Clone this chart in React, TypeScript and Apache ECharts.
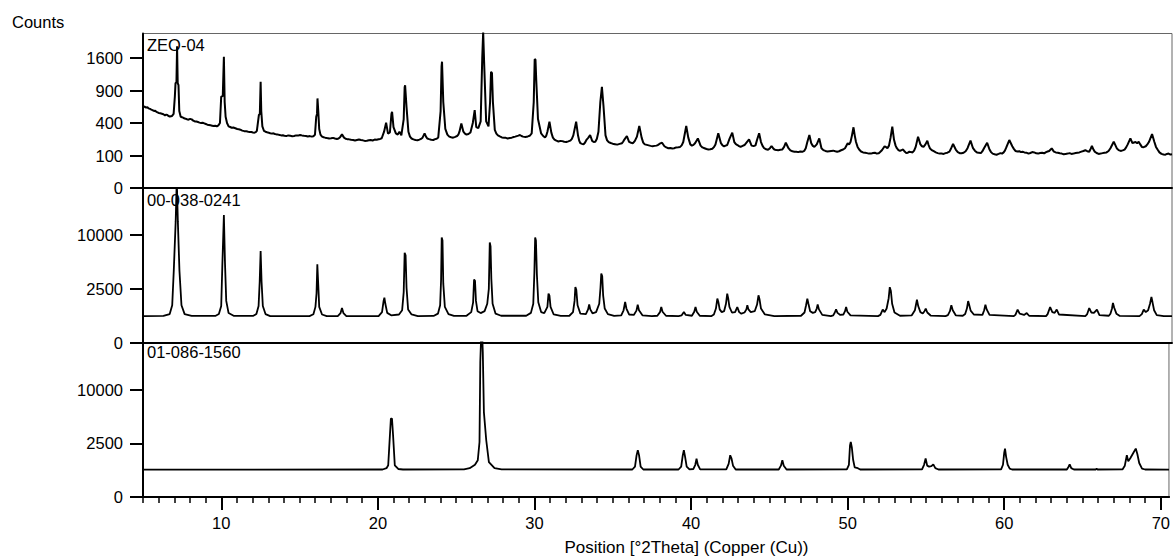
import { useEffect, useRef } from "react";
import * as echarts from "echarts";

// ---------- axis ranges & ticks ----------
const X_MIN = 5;
const X_MAX = 70.52;
const xMajorTicks = [10, 20, 30, 40, 50, 60, 70];
const xMinorTicks = [5, 6, 7, 8, 9, 10, 11, 12, 13, 14, 15, 16, 17, 18, 19, 20, 21, 22, 23, 24, 25, 26, 27, 28, 29, 30, 31, 32, 33, 34, 35, 36, 37, 38, 39, 40, 41, 42, 43, 44, 45, 46, 47, 48, 49, 50, 51, 52, 53, 54, 55, 56, 57, 58, 59, 60, 61, 62, 63, 64, 65, 66, 67, 68, 69, 70];
const yTicksSample = [0, 100, 400, 900, 1600];
const yTicksRef = [0, 2500, 10000];
const yMaxSample = 2260;
const yMaxRef = 20680;
const panelLabels = ["ZEO-04", "00-038-0241", "01-086-1560"];
const yAxisTitle = "Counts";
const xAxisTitle = "Position [°2Theta] (Copper (Cu))";

// ---------- measured pattern: ZEO-04 [2theta, counts] ----------
const sampleZEO04 = [
  [5.0, 640], [5.1, 625], [5.2, 612], [5.28, 618], [5.35, 600], [5.45, 592], [5.5, 585], [5.6, 575], [5.7, 562], [5.78, 566], [5.85, 548], [5.95, 540], [6.0, 532], [6.1, 528], [6.2, 522], [6.3, 515], [6.4, 500], [6.48, 510], [6.55, 506], [6.62, 492], [6.7, 482], [6.78, 488], [6.85, 492],
  [6.95, 520], [7.03, 800], [7.07, 1040], [7.13, 1060], [7.17, 1900], [7.21, 1040], [7.26, 1000], [7.31, 560], [7.4, 480],
  [7.48, 475], [7.55, 468], [7.62, 460], [7.7, 455], [7.8, 448], [7.9, 442], [8.0, 452], [8.1, 446], [8.2, 430], [8.3, 420], [8.4, 418], [8.5, 412], [8.6, 405], [8.7, 400], [8.8, 403], [8.9, 396], [9.0, 388], [9.1, 380], [9.2, 376], [9.3, 372], [9.4, 368], [9.5, 364], [9.6, 366], [9.7, 360], [9.8, 372],
  [9.9, 400], [9.98, 790], [10.08, 800], [10.15, 1630], [10.2, 700], [10.26, 480], [10.35, 400],
  [10.45, 360], [10.55, 352], [10.65, 344], [10.75, 346], [10.88, 338], [11.0, 330], [11.1, 326], [11.2, 322], [11.32, 312], [11.45, 306], [11.58, 304], [11.7, 300], [11.8, 298], [11.9, 296], [12.0, 292], [12.1, 290], [12.18, 296], [12.25, 310],
  [12.38, 505], [12.44, 520], [12.49, 1070], [12.53, 560], [12.6, 360],
  [12.7, 310], [12.8, 300], [12.9, 294], [13.0, 290], [13.1, 284], [13.2, 280], [13.3, 283], [13.4, 276], [13.5, 272], [13.6, 270], [13.7, 266], [13.8, 262], [13.9, 264], [14.0, 258], [14.12, 255], [14.25, 262], [14.38, 258], [14.5, 254], [14.62, 256], [14.75, 262], [14.88, 260],
  [15.0, 266], [15.12, 262], [15.25, 258], [15.38, 256], [15.5, 252], [15.62, 255], [15.75, 250], [15.85, 254], [15.95, 268],
  [16.03, 480], [16.08, 520], [16.11, 760], [16.16, 560], [16.22, 330],
  [16.3, 270], [16.4, 250], [16.5, 244], [16.6, 240], [16.72, 236], [16.85, 232], [16.98, 234], [17.1, 238], [17.22, 232], [17.35, 228], [17.45, 232], [17.55, 245], [17.67, 272], [17.8, 240], [17.9, 230], [18.0, 226], [18.12, 224], [18.25, 220], [18.38, 218], [18.5, 214],
  [18.62, 218], [18.75, 222], [18.88, 218], [19.0, 215], [19.12, 210], [19.25, 212], [19.38, 216], [19.5, 218], [19.62, 214], [19.75, 222], [19.88, 220], [20.0, 225], [20.1, 228], [20.2, 234],
  [20.35, 300], [20.48, 404], [20.6, 280], [20.72, 292], [20.82, 520], [20.86, 550], [20.95, 350], [21.1, 282], [21.22, 270], [21.33, 300], [21.45, 262],
  [21.6, 450], [21.66, 960], [21.69, 1000], [21.78, 620], [21.9, 300],
  [22.0, 250], [22.1, 232], [22.22, 224], [22.35, 218], [22.48, 216], [22.6, 222], [22.7, 228], [22.8, 240], [22.93, 282], [23.02, 250], [23.1, 232], [23.22, 226], [23.35, 220], [23.48, 218], [23.6, 226], [23.7, 230], [23.8, 242],
  [23.95, 560], [24.01, 1400], [24.04, 1510], [24.12, 700], [24.25, 330],
  [24.38, 270], [24.5, 250], [24.62, 244], [24.75, 240], [24.88, 248], [25.0, 256], [25.08, 270], [25.15, 300], [25.27, 395], [25.4, 300], [25.5, 280], [25.6, 270], [25.72, 276], [25.85, 292],
  [26.0, 400], [26.12, 575], [26.22, 350], [26.35, 340], [26.5, 420], [26.6, 1590], [26.66, 2300], [26.72, 1500], [26.85, 420],
  [27.0, 360], [27.1, 700], [27.16, 1280], [27.22, 1250], [27.28, 700], [27.4, 320],
  [27.5, 280], [27.6, 262], [27.72, 252], [27.85, 242], [27.98, 240], [28.1, 238], [28.22, 232], [28.35, 236], [28.48, 240], [28.6, 246], [28.7, 250], [28.8, 255], [28.9, 260], [29.0, 266], [29.1, 256], [29.2, 250], [29.35, 246], [29.5, 252], [29.62, 258], [29.75, 282],
  [29.88, 700], [29.94, 1570], [29.99, 1560], [30.04, 1100], [30.15, 450], [30.35, 282],
  [30.48, 256], [30.6, 242], [30.68, 260], [30.75, 300], [30.88, 416], [31.0, 290], [31.1, 240], [31.2, 222], [31.32, 212], [31.45, 205], [31.58, 210], [31.7, 208], [31.82, 202], [31.95, 200], [32.08, 206], [32.2, 212], [32.3, 226],
  [32.4, 262], [32.58, 416], [32.7, 260], [32.78, 210], [32.85, 190], [32.95, 184], [33.05, 180], [33.15, 196], [33.25, 222], [33.36, 240], [33.47, 266], [33.6, 210], [33.7, 200], [33.8, 202], [33.9, 230],
  [34.0, 300], [34.12, 700], [34.22, 971], [34.32, 640], [34.45, 262],
  [34.55, 215], [34.65, 200], [34.78, 192], [34.9, 186], [35.05, 182], [35.2, 178], [35.35, 184], [35.5, 190], [35.58, 205], [35.65, 222], [35.81, 256], [35.95, 202], [36.08, 194], [36.2, 190], [36.32, 210], [36.45, 250], [36.6, 364],
  [36.75, 240], [36.85, 195], [36.95, 180], [37.08, 176], [37.2, 172], [37.32, 168], [37.45, 165], [37.58, 168], [37.7, 170], [37.8, 176], [37.9, 186], [38.05, 194], [38.2, 165], [38.32, 156], [38.45, 150], [38.58, 152], [38.7, 148], [38.82, 150],
  [38.95, 156], [39.08, 158], [39.2, 160], [39.3, 172], [39.4, 200], [39.59, 364], [39.72, 240], [39.85, 180], [39.95, 170], [40.05, 176], [40.15, 190], [40.33, 233], [40.5, 170], [40.62, 156], [40.75, 150], [40.88, 144],
  [41.0, 140], [41.12, 142], [41.25, 146], [41.35, 158], [41.45, 180], [41.63, 283], [41.8, 190], [41.9, 172], [42.0, 165], [42.1, 170], [42.2, 175], [42.35, 230], [42.52, 290], [42.65, 200], [42.75, 182],
  [42.85, 175], [42.95, 166], [43.05, 160], [43.18, 168], [43.3, 175], [43.45, 200], [43.59, 224], [43.75, 170], [43.88, 166], [44.0, 172], [44.1, 220], [44.23, 283], [44.35, 200], [44.45, 168],
  [44.55, 150], [44.68, 142], [44.8, 138], [44.92, 150], [45.02, 167], [45.12, 150], [45.2, 140], [45.32, 136], [45.45, 135], [45.58, 138], [45.7, 140], [45.82, 160], [45.93, 194], [46.1, 150], [46.22, 134], [46.35, 128], [46.48, 124], [46.6, 125],
  [46.72, 122], [46.85, 126], [46.98, 124], [47.1, 130], [47.2, 150], [47.3, 200], [47.43, 266], [47.55, 190], [47.65, 168], [47.75, 160], [47.9, 180], [48.06, 233], [48.2, 150], [48.32, 136], [48.45, 130], [48.58, 126], [48.7, 128],
  [48.82, 130], [48.95, 132], [49.08, 128], [49.2, 125], [49.32, 128], [49.45, 135], [49.58, 140], [49.7, 150], [49.87, 189], [49.96, 180], [50.05, 200], [50.14, 260], [50.24, 349], [50.32, 260], [50.4, 200], [50.5, 160], [50.6, 140], [50.72, 126], [50.85, 120],
  [50.98, 118], [51.1, 115], [51.22, 112], [51.35, 112], [51.48, 116], [51.6, 118], [51.72, 112], [51.85, 114], [51.95, 124], [52.05, 135], [52.22, 165], [52.32, 158], [52.4, 150], [52.5, 170], [52.6, 240], [52.71, 356], [52.82, 220],
  [52.92, 170], [53.0, 150], [53.1, 136], [53.2, 130], [53.3, 136], [53.4, 140], [53.5, 126], [53.6, 115], [53.7, 118], [53.8, 125], [53.9, 122], [54.0, 120], [54.1, 132], [54.2, 160], [54.35, 249], [54.5, 180], [54.6, 165], [54.7, 160],
  [54.82, 180], [54.94, 212], [55.02, 175], [55.1, 150], [55.22, 136], [55.35, 128], [55.48, 120], [55.6, 115], [55.72, 112], [55.85, 112], [55.98, 110], [56.1, 115], [56.22, 118], [56.35, 125], [56.46, 150], [56.58, 183], [56.75, 140], [56.88, 122], [57.0, 115],
  [57.12, 114], [57.25, 118], [57.38, 128], [57.5, 150], [57.69, 212], [57.85, 150], [57.98, 130], [58.1, 120], [58.22, 118], [58.35, 115], [58.45, 128], [58.55, 150], [58.75, 194], [58.9, 140], [59.0, 122], [59.1, 112],
  [59.22, 108], [59.35, 105], [59.48, 110], [59.6, 115], [59.7, 112], [59.8, 120], [59.88, 132], [59.95, 150], [60.16, 218], [60.35, 165], [60.45, 145], [60.55, 130], [60.68, 126], [60.8, 128], [60.9, 122], [61.0, 125], [61.12, 120], [61.25, 118],
  [61.38, 112], [61.5, 116], [61.62, 122], [61.75, 120], [61.88, 114], [62.0, 112], [62.12, 116], [62.25, 118], [62.38, 114], [62.5, 122], [62.6, 126], [62.7, 130], [62.86, 149], [63.0, 125], [63.12, 120], [63.25, 118], [63.38, 114], [63.5, 112],
  [63.62, 108], [63.75, 110], [63.88, 112], [64.0, 115], [64.12, 110], [64.25, 112], [64.38, 116], [64.5, 118], [64.62, 120], [64.75, 125], [64.88, 130], [65.0, 135], [65.12, 128], [65.25, 125], [65.32, 140], [65.42, 167], [65.52, 140], [65.6, 125], [65.72, 116], [65.85, 110],
  [65.98, 112], [66.1, 115], [66.22, 118], [66.35, 120], [66.48, 130], [66.6, 150], [66.81, 203], [67.0, 150], [67.12, 136], [67.25, 130], [67.38, 134], [67.5, 140], [67.6, 156], [67.7, 180], [67.87, 233], [68.0, 190], [68.1, 196],
  [68.2, 200], [68.3, 190], [68.4, 203], [68.5, 180], [68.6, 160], [68.72, 158], [68.85, 165], [68.95, 180], [69.05, 200], [69.25, 276], [69.4, 200], [69.5, 160], [69.6, 140], [69.72, 120], [69.85, 110], [69.98, 106], [70.1, 105],
  [70.2, 110], [70.3, 112], [70.42, 106], [70.52, 108],
];

// ---------- reference pattern 00-038-0241 [2theta, counts] ----------
const ref00_038_0241 = [
  [5.0, 600], [6.3, 610], [6.7, 700], [6.86, 1200], [6.96, 4500], [7.08, 12600], [7.15, 23000], [7.22, 12600], [7.32, 4500], [7.45, 1200], [7.65, 700], [8.1, 610],
  [9.6, 610], [9.83, 700], [9.98, 1150], [10.05, 5000], [10.15, 14100], [10.22, 5500], [10.3, 1500], [10.45, 750], [10.8, 610],
  [12.0, 610], [12.22, 700], [12.36, 1150], [12.43, 3200], [12.49, 7230], [12.55, 3200], [12.63, 1150], [12.8, 700], [13.1, 605],
  [15.6, 605], [15.85, 690], [15.98, 1100], [16.05, 2100], [16.1, 5310], [16.16, 2850], [16.22, 1100], [16.4, 680], [16.7, 605],
  [17.4, 605], [17.58, 750], [17.67, 1030], [17.76, 750], [17.95, 605],
  [20.0, 605], [20.22, 800], [20.32, 1500], [20.37, 1745], [20.43, 1300], [20.55, 760], [20.8, 640],
  [21.3, 680], [21.5, 900], [21.6, 2200], [21.66, 6970], [21.72, 6600], [21.78, 2600], [21.88, 950], [22.1, 680], [22.5, 605],
  [23.5, 610], [23.78, 720], [23.92, 1200], [23.98, 3400], [24.02, 9570], [24.07, 9000], [24.12, 3000], [24.22, 1100], [24.45, 700], [24.8, 610],
  [25.6, 620], [25.9, 800], [26.02, 1400], [26.08, 3430], [26.14, 3300], [26.2, 1500], [26.3, 850], [26.5, 750],
  [26.75, 850], [26.92, 1300], [27.02, 2500], [27.08, 8680], [27.13, 8000], [27.18, 3500], [27.26, 1300], [27.45, 720], [27.8, 620],
  [29.4, 620], [29.7, 760], [29.85, 1300], [29.92, 4200], [29.97, 9570], [30.02, 9000], [30.08, 4000], [30.17, 1400], [30.35, 800],
  [30.55, 750], [30.75, 1100], [30.82, 2070], [30.88, 1900], [30.95, 1100], [31.15, 680], [31.6, 610],
  [32.15, 620], [32.38, 800], [32.48, 1500], [32.53, 2670], [32.59, 2400], [32.67, 1200], [32.85, 720],
  [33.2, 700], [33.34, 950], [33.41, 1250], [33.48, 950], [33.62, 740],
  [33.85, 800], [34.05, 1300], [34.13, 2600], [34.18, 4120], [34.24, 3800], [34.3, 1900], [34.4, 1000], [34.6, 700], [35.0, 610],
  [35.45, 640], [35.6, 900], [35.7, 1420], [35.78, 1000], [35.95, 680],
  [36.25, 660], [36.42, 880], [36.5, 1240], [36.58, 900], [36.8, 640], [37.4, 605],
  [37.75, 620], [37.92, 800], [38.0, 1090], [38.08, 820], [38.3, 620], [39.1, 605],
  [39.3, 640], [39.44, 800], [39.56, 660],
  [39.95, 620], [40.1, 820], [40.18, 1090], [40.26, 820], [40.45, 620], [41.2, 605],
  [41.35, 680], [41.48, 1000], [41.57, 1670], [41.64, 1400], [41.72, 950], [41.85, 800],
  [42.0, 850], [42.12, 1300], [42.2, 2070], [42.26, 1700], [42.34, 1100], [42.5, 780],
  [42.7, 800], [42.84, 1090], [42.96, 800], [43.1, 720],
  [43.3, 780], [43.42, 950], [43.48, 1200], [43.55, 950], [43.7, 800],
  [43.95, 850], [44.1, 1250], [44.19, 1930], [44.26, 1600], [44.35, 1000], [44.6, 680], [45.2, 605],
  [46.9, 620], [47.12, 780], [47.22, 1200], [47.3, 1670], [47.37, 1300], [47.48, 850], [47.65, 760],
  [47.8, 800], [47.9, 1000], [47.96, 1260], [48.04, 950], [48.25, 660], [48.8, 605],
  [48.95, 640], [49.05, 780], [49.13, 950], [49.22, 760], [49.4, 660],
  [49.6, 680], [49.7, 850], [49.77, 1090], [49.85, 820], [50.05, 640], [51.8, 605],
  [51.95, 660], [52.1, 940], [52.22, 800],
  [52.35, 1000], [52.48, 1700], [52.55, 2650], [52.62, 2300], [52.7, 1300], [52.85, 780], [53.2, 620],
  [53.95, 640], [54.15, 900], [54.28, 1590], [54.36, 1150], [54.5, 800],
  [54.65, 730], [54.76, 850], [54.84, 990], [54.94, 780], [55.15, 630], [56.1, 605],
  [56.25, 650], [56.38, 850], [56.47, 1200], [56.56, 900], [56.75, 640], [57.2, 620],
  [57.35, 700], [57.46, 1000], [57.54, 1490], [57.6, 1250], [57.7, 880], [57.9, 680],
  [58.45, 660], [58.56, 900], [58.64, 1240], [58.72, 950], [58.9, 660], [60.45, 605],
  [60.55, 660], [60.69, 940], [60.82, 720], [61.1, 660],
  [61.27, 750], [61.42, 620], [62.5, 605],
  [62.6, 700], [62.76, 1090], [62.9, 800], [63.05, 760],
  [63.18, 940], [63.32, 680], [65.0, 605],
  [65.12, 700], [65.25, 1030], [65.38, 780], [65.55, 760],
  [65.74, 940], [65.9, 650], [66.5, 620],
  [66.6, 720], [66.7, 1000], [66.76, 1350], [66.84, 1050], [66.98, 720], [67.2, 610], [68.45, 605],
  [68.6, 700], [68.72, 940], [68.85, 800], [69.0, 900],
  [69.12, 1300], [69.21, 1790], [69.28, 1400], [69.38, 900], [69.55, 650], [70.0, 605], [70.52, 600],
];

// ---------- reference pattern 01-086-1560 [2theta, counts] ----------
const ref01_086_1560 = [
  [5.0, 650], [20.3, 655], [20.55, 720], [20.66, 870], [20.72, 2030], [20.83, 5330], [20.9, 5330], [20.97, 3300], [21.08, 870], [21.3, 680], [21.6, 655],
  [25.5, 660], [25.86, 720], [26.2, 900], [26.38, 1170], [26.49, 2620], [26.54, 15800], [26.6, 23000], [26.66, 23000], [26.7, 18200], [26.77, 6250], [26.92, 2790], [27.09, 1060], [27.45, 720], [27.9, 660],
  [36.25, 655], [36.42, 800], [36.52, 1500], [36.6, 1890], [36.68, 1500], [36.78, 800], [36.95, 655],
  [39.2, 655], [39.37, 800], [39.47, 1500], [39.54, 1890], [39.62, 1400], [39.72, 800], [39.9, 660],
  [40.15, 680], [40.27, 900], [40.35, 1280], [40.43, 900], [40.58, 660],
  [42.25, 660], [42.4, 950], [42.5, 1510], [42.58, 1300], [42.68, 850], [42.85, 655],
  [45.6, 655], [45.74, 850], [45.83, 1170], [45.92, 850], [46.1, 655],
  [49.95, 660], [50.08, 900], [50.15, 2300], [50.2, 2620], [50.27, 2100], [50.35, 1200], [50.45, 760], [50.65, 720], [50.8, 655],
  [54.75, 660], [54.88, 900], [54.98, 1280], [55.08, 850], [55.2, 800], [55.35, 820], [55.47, 925], [55.6, 720], [55.8, 655],
  [59.8, 660], [59.92, 900], [60.0, 1700], [60.05, 2030], [60.12, 1400], [60.22, 900], [60.35, 700], [60.5, 655],
  [64.0, 655], [64.1, 780], [64.18, 925], [64.28, 720], [64.45, 655],
  [65.85, 655], [65.9, 700], [65.95, 655],
  [67.55, 660], [67.7, 850], [67.83, 1510], [67.92, 1100], [68.05, 1300], [68.25, 1700], [68.4, 2030], [68.5, 1600], [68.62, 1000], [68.8, 700], [69.0, 655], [70.52, 650],
];

const FONT = "'Liberation Sans', Arial, sans-serif";
const FS = 16.5;

const toSqrt = (pts: number[][]) => pts.map(([x, c]) => [x, Math.sqrt(c)]);

function yAxisFor(gridIndex: number, ticks: number[], maxCount: number) {
  const vals = ticks.map((t) => Math.sqrt(t));
  return {
    type: "value",
    gridIndex,
    min: 0,
    max: Math.sqrt(maxCount),
    axisLine: { show: true, onZero: false, lineStyle: { color: "#000", width: 2 } },
    axisTick: { show: true, customValues: vals, length: 13, lineStyle: { color: "#000", width: 2 } },
    axisLabel: {
      show: true,
      customValues: vals,
      margin: 20,
      color: "#000",
      fontFamily: FONT,
      fontSize: FS,
      formatter: (v: number) => String(Math.round(v * v)),
    },
    splitLine: { show: false },
  };
}

function hiddenX(gridIndex: number) {
  return {
    type: "value",
    gridIndex,
    min: X_MIN,
    max: X_MAX,
    position: "bottom",
    axisLine: { show: true, onZero: false, lineStyle: { color: "#000", width: 2 } },
    axisTick: { show: false },
    axisLabel: { show: false },
    splitLine: { show: false },
  };
}

export default function App() {
  const ref = useRef<HTMLDivElement>(null);

  useEffect(() => {
    if (!ref.current) return;
    const chart = echarts.init(ref.current, null, { renderer: "svg" });

    const gridBase = { left: 143, right: 1, height: 154.5, show: true, borderColor: "#666", borderWidth: 1 };
    const lineBase = { type: "line", showSymbol: false, symbol: "none", clip: true, silent: true };
    const option = {
      animation: false,
      backgroundColor: "#fff",
      grid: [
        { ...gridBase, top: 33.5 },
        { ...gridBase, top: 188 },
        { ...gridBase, top: 342.5 },
      ],
      xAxis: [
        hiddenX(0),
        hiddenX(1),
        {
          type: "value",
          gridIndex: 2,
          min: X_MIN,
          max: X_MAX,
          position: "bottom",
          axisLine: { show: true, onZero: false, lineStyle: { color: "#000", width: 2 } },
          axisTick: { show: true, customValues: xMinorTicks, length: 6, lineStyle: { color: "#000", width: 1.5 } },
          axisLabel: { show: false },
          splitLine: { show: false },
        },
        {
          type: "value",
          gridIndex: 2,
          min: X_MIN,
          max: X_MAX,
          position: "bottom",
          offset: 0,
          axisLine: { show: true, onZero: false, lineStyle: { color: "#000", width: 2 } },
          axisTick: { show: true, customValues: xMajorTicks, length: 13, lineStyle: { color: "#000", width: 2 } },
          axisLabel: {
            show: true,
            customValues: xMajorTicks,
            margin: 17,
            color: "#000",
            fontFamily: FONT,
            fontSize: FS,
          },
          splitLine: { show: false },
        },
      ],
      yAxis: [
        yAxisFor(0, yTicksSample, yMaxSample),
        yAxisFor(1, yTicksRef, yMaxRef),
        yAxisFor(2, yTicksRef, yMaxRef),
      ],
      series: [
        { ...lineBase, name: panelLabels[0], xAxisIndex: 0, yAxisIndex: 0, data: toSqrt(sampleZEO04), lineStyle: { color: "#000", width: 2 } },
        { ...lineBase, name: panelLabels[1], xAxisIndex: 1, yAxisIndex: 1, data: toSqrt(ref00_038_0241), lineStyle: { color: "#000", width: 1.8 } },
        { ...lineBase, name: panelLabels[2], xAxisIndex: 2, yAxisIndex: 2, data: toSqrt(ref01_086_1560), lineStyle: { color: "#000", width: 1.8 } },
      ],
      graphic: [
        { type: "text", x: 12, y: 22, style: { text: yAxisTitle, fill: "#000", font: `${FS}px ${FONT}`, verticalAlign: "middle", align: "left" } },
        { type: "text", x: 147, y: 45, z: 10, style: { text: panelLabels[0], fill: "#000", font: `${FS}px ${FONT}`, verticalAlign: "middle", align: "left" } },
        { type: "text", x: 147, y: 200, z: 10, style: { text: panelLabels[1], fill: "#000", font: `${FS}px ${FONT}`, verticalAlign: "middle", align: "left" } },
        { type: "text", x: 147, y: 352, z: 10, style: { text: panelLabels[2], fill: "#000", font: `${FS}px ${FONT}`, verticalAlign: "middle", align: "left" } },
        { type: "text", x: 686.5, y: 547, style: { text: xAxisTitle, fill: "#000", font: `17px ${FONT}`, verticalAlign: "middle", align: "center" } },
      ],
    };

    chart.setOption(option as any);
    return () => chart.dispose();
  }, []);

  return (
    <div
      ref={ref}
      style={{ position: "fixed", left: 0, top: 0, width: 1173, height: 558, background: "#fff" }}
    />
  );
}
